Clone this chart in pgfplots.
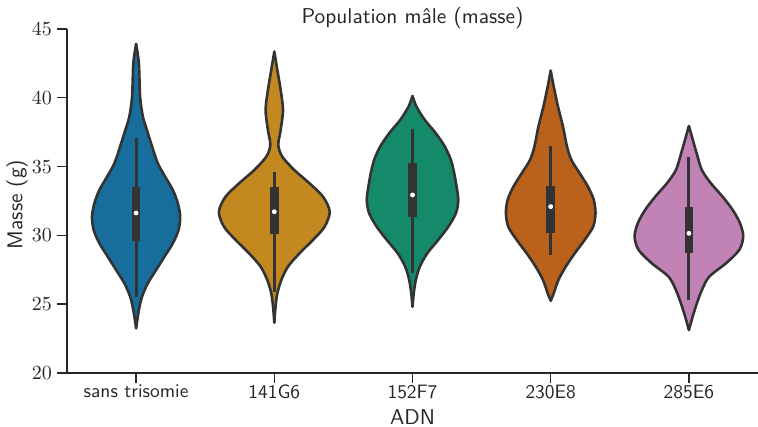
\documentclass[border=0pt]{standalone}
\usepackage{pgfplots}
\pgfplotsset{compat=1.18}
\usepackage{pgfplotstable}
\usepgfplotslibrary{fillbetween}
\definecolor{edge}{HTML}{333333}
\definecolor{txt}{HTML}{262626}
\definecolor{cA}{HTML}{176D9C}
\definecolor{cB}{HTML}{C38820}
\definecolor{cC}{HTML}{158A6A}
\definecolor{cD}{HTML}{BA611B}
\definecolor{cE}{HTML}{C183B5}

% violin outlines: value v, half-width w (category units)
\pgfplotstableread{
v w
43.91 0
42.51 0.020
40.08 0.029
38.63 0.049
37.66 0.078
36.45 0.116
35.24 0.157
34.27 0.210
33.30 0.266
32.33 0.302
31.36 0.319
30.39 0.307
29.43 0.266
28.45 0.205
27.49 0.145
26.52 0.085
25.55 0.043
24.58 0.020
23.25 0
}\vA
\pgfplotstableread{
v w
43.35 0
42.02 0.022
40.57 0.046
39.11 0.063
37.66 0.046
36.57 0.029
35.72 0.058
34.75 0.145
33.79 0.254
32.81 0.353
31.72 0.401
30.63 0.364
29.67 0.280
28.70 0.183
27.73 0.099
26.76 0.051
25.79 0.022
24.82 0.009
23.66 0
}\vB
\pgfplotstableread{
v w
40.13 0
39.35 0.029
38.39 0.089
37.42 0.169
36.45 0.234
35.48 0.278
34.51 0.302
33.54 0.319
32.57 0.331
31.61 0.314
30.63 0.259
29.67 0.186
28.70 0.107
27.73 0.053
26.76 0.024
25.79 0.009
24.82 0
}\vC
\pgfplotstableread{
v w
41.97 0
40.81 0.022
39.35 0.053
37.90 0.089
36.45 0.118
35.48 0.150
34.51 0.210
33.54 0.270
32.57 0.312
31.61 0.324
30.63 0.307
29.67 0.246
28.70 0.174
27.73 0.109
26.76 0.056
25.79 0.022
25.25 0
}\vD
\pgfplotstableread{
v w
37.95 0
37.17 0.022
35.97 0.056
34.75 0.094
33.79 0.159
32.81 0.244
31.85 0.317
30.88 0.370
29.91 0.393
28.94 0.364
27.97 0.268
27.00 0.147
26.03 0.094
25.07 0.058
24.09 0.027
23.12 0
}\vE

\begin{document}
\begin{tikzpicture}
\begin{axis}[
  name=ax,
  set layers,
  scale only axis,
  width=345.5pt, height=172pt,
  xmin=-0.5, xmax=4.5, ymin=20, ymax=45,
  axis x line*=bottom, axis y line*=left,
  xtick={0,1,2,3,4},
  xticklabels={sans trisomie,141G6,152F7,230E8,285E6},
  ytick={20,25,30,35,40,45},
  tick align=outside,
  major tick length=5pt,
  axis line style={line width=0.7pt, color=txt},
  tick style={line width=0.7pt, color=txt},
  xticklabel style={font=\sffamily\fontsize{9.7}{11}\selectfont, text=txt, yshift=2.5pt},
  yticklabel style={font=\fontsize{9.7}{11}\selectfont, text=txt, xshift=1pt},
  xlabel={ADN}, ylabel={Masse (g)},
  xlabel style={font=\sffamily\fontsize{10.7}{12}\selectfont, text=txt, at={(axis description cs:0.5,0)}, anchor=center, yshift=-22pt},
  ylabel style={font=\sffamily\fontsize{10.7}{12}\selectfont, text=txt, at={(axis description cs:-0.0724,0.49)}, anchor=center},
  title={Population mâle (masse)},
  title style={font=\sffamily\fontsize{10.7}{12}\selectfont, text=txt, at={(axis description cs:0.5,1)}, anchor=base, yshift=-3.5pt},
  every axis plot/.append style={line join=round},
]
% violin 1
\addplot[name path=rA, draw=edge, line width=1.3pt, smooth, line cap=round] table[x expr=0+\thisrow{w}, y=v]{\vA};
\addplot[name path=lA, draw=edge, line width=1.3pt, smooth, line cap=round] table[x expr=0-\thisrow{w}, y=v]{\vA};
\addplot[fill=cA, draw=none] fill between[of=rA and lA];
% violin 2
\addplot[name path=rB, draw=edge, line width=1.3pt, smooth, line cap=round] table[x expr=1+\thisrow{w}, y=v]{\vB};
\addplot[name path=lB, draw=edge, line width=1.3pt, smooth, line cap=round] table[x expr=1-\thisrow{w}, y=v]{\vB};
\addplot[fill=cB, draw=none] fill between[of=rB and lB];
% violin 3
\addplot[name path=rC, draw=edge, line width=1.3pt, smooth, line cap=round] table[x expr=2+\thisrow{w}, y=v]{\vC};
\addplot[name path=lC, draw=edge, line width=1.3pt, smooth, line cap=round] table[x expr=2-\thisrow{w}, y=v]{\vC};
\addplot[fill=cC, draw=none] fill between[of=rC and lC];
% violin 4
\addplot[name path=rD, draw=edge, line width=1.3pt, smooth, line cap=round] table[x expr=3+\thisrow{w}, y=v]{\vD};
\addplot[name path=lD, draw=edge, line width=1.3pt, smooth, line cap=round] table[x expr=3-\thisrow{w}, y=v]{\vD};
\addplot[fill=cD, draw=none] fill between[of=rD and lD];
% violin 5
\addplot[name path=rE, draw=edge, line width=1.3pt, smooth, line cap=round] table[x expr=4+\thisrow{w}, y=v]{\vE};
\addplot[name path=lE, draw=edge, line width=1.3pt, smooth, line cap=round] table[x expr=4-\thisrow{w}, y=v]{\vE};
\addplot[fill=cE, draw=none] fill between[of=rE and lE];

% whiskers
\addplot[edge, line width=1.5pt] coordinates {(0,25.55) (0,37.06)};
\addplot[edge, line width=1.5pt] coordinates {(1,25.90) (1,34.63)};
\addplot[edge, line width=1.5pt] coordinates {(2,27.24) (2,37.71)};
\addplot[edge, line width=1.5pt] coordinates {(3,28.58) (3,36.50)};
\addplot[edge, line width=1.5pt] coordinates {(4,25.30) (4,35.72)};
% boxes (IQR)
\addplot[edge, line width=4.3pt] coordinates {(0,29.61) (0,33.54)};
\addplot[edge, line width=4.3pt] coordinates {(1,30.10) (1,33.54)};
\addplot[edge, line width=4.3pt] coordinates {(2,31.36) (2,35.24)};
\addplot[edge, line width=4.3pt] coordinates {(3,30.15) (3,33.59)};
\addplot[edge, line width=4.3pt] coordinates {(4,28.74) (4,32.04)};
% medians
\addplot[only marks, mark=*, mark size=1pt, color=white] coordinates {(0,31.63) (1,31.72) (2,32.94) (3,32.09) (4,30.15)};
\end{axis}
\pgfresetboundingbox
\useasboundingbox ([shift={(-33.5pt,-27pt)}]ax.south west) rectangle ([shift={(0pt,14.5pt)}]ax.north east);
\end{tikzpicture}
\end{document}
